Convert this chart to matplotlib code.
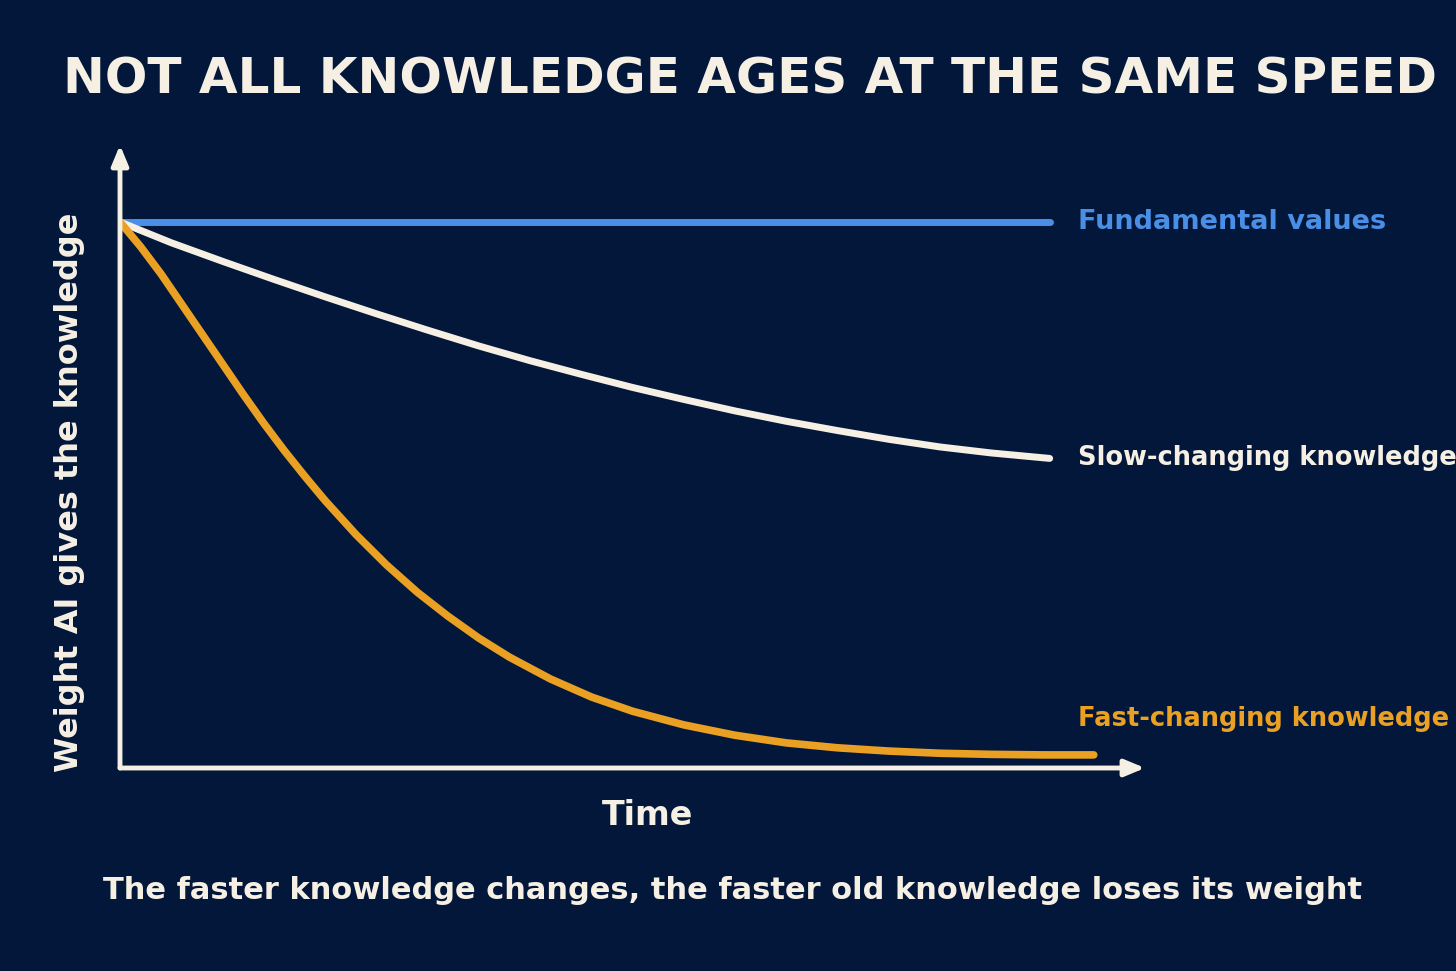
import matplotlib
matplotlib.use("Agg")
import matplotlib.pyplot as plt

time = [0, 9.07]
fundamental = [1.0, 1.0]
slow_t = [0, 0.5, 1, 1.5, 2, 2.5, 3, 3.5, 4, 4.5, 5, 5.5, 6, 6.5, 7, 7.5, 8, 8.5, 9.07]
slow = [1.0, 0.962, 0.928, 0.895, 0.863, 0.832, 0.802, 0.773, 0.746, 0.721, 0.697, 0.675,
        0.654, 0.635, 0.618, 0.602, 0.588, 0.577, 0.567]
fast_t = [0, 0.2, 0.4, 0.6, 0.8, 1.0, 1.2, 1.4, 1.6, 1.8, 2.0, 2.3, 2.6, 2.9, 3.2, 3.5, 3.8,
          4.2, 4.6, 5.0, 5.5, 6.0, 6.5, 7.0, 7.5, 8.0, 8.5, 9.0, 9.5]
fast = [1.0, 0.955, 0.905, 0.85, 0.795, 0.74, 0.685, 0.632, 0.582, 0.535, 0.49, 0.428, 0.372,
        0.322, 0.278, 0.238, 0.203, 0.163, 0.13, 0.104, 0.079, 0.060, 0.046, 0.037, 0.031,
        0.027, 0.025, 0.024, 0.024]

bg = '#03173a'
blue = '#4a8fe6'
white = '#f6f0e4'
orange = '#e9a023'
W, H = 1456, 971
fig = plt.figure(figsize=(W/100, H/100), dpi=100, facecolor=bg)
ax = fig.add_axes([120/W, (971-768)/H, (1145-120)/W, (768-145)/H])
ax.set_facecolor(bg)
ax.set_xlim(0, 1025/102.5)
ax.set_ylim(0, 623/546)
for s in ax.spines.values():
    s.set_visible(False)
ax.set_xticks([]); ax.set_yticks([])

ax.plot(time, fundamental, color=blue, lw=5, solid_capstyle='round')
ax.plot(slow_t, slow, color=white, lw=5, solid_capstyle='round')
ax.plot(fast_t, fast, color=orange, lw=5.5, solid_capstyle='round')

ax.annotate('', xy=(10.0, 0), xytext=(0, 0), xycoords='data',
            arrowprops=dict(arrowstyle='-|>,head_length=1.2,head_width=0.5', color=white, lw=3.5, shrinkA=0, shrinkB=0))
ax.annotate('', xy=(0, 623/546), xytext=(0, 0),
            arrowprops=dict(arrowstyle='-|>,head_length=1.2,head_width=0.5', color=white, lw=3.5, shrinkA=0, shrinkB=0))

lf = ['DejaVu Sans']
ax.text(9.35, 1.0, 'Fundamental values', color=blue, fontsize=19.5, family=lf, fontweight='bold', va='center', ha='left')
ax.text(9.35, 0.567, 'Slow-changing knowledge', color=white, fontsize=18.5, family=lf, fontweight='bold', va='center', ha='left')
ax.text(9.35, 0.09, 'Fast-changing knowledge', color=orange, fontsize=18.5, family=lf, fontweight='bold', va='center', ha='left')

fig.text(750/W, 1-80/H, 'NOT ALL KNOWLEDGE AGES AT THE SAME SPEED', color=white, fontsize=36,
         family=lf, fontweight='bold', ha='center', va='center')
fig.text(648/W, 1-815/H, 'Time', color=white, fontsize=24, family=lf, fontweight='bold', ha='center', va='center')
fig.text(70/W, 1-492/H, 'Weight AI gives the knowledge', color=white, fontsize=23, family=lf,
         fontweight='bold', ha='center', va='center', rotation=90)
fig.text(733/W, 1-890/H, 'The faster knowledge changes, the faster old knowledge loses its weight', color=white,
         fontsize=22, family=lf, fontweight='bold', ha='center', va='center')
fig.savefig('out.png', dpi=100, facecolor=bg)
